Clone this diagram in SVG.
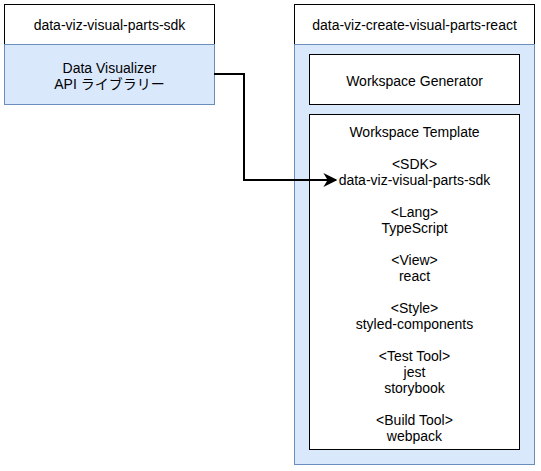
<svg xmlns="http://www.w3.org/2000/svg" width="541" height="471" viewBox="0 0 541 471">
<defs>
<style>
.hdr{fill:#ffffff;stroke:#000000;stroke-width:1}
.body{fill:#dae8fc;stroke:#6c8ebf;stroke-width:1}
.box{fill:#ffffff;stroke:#000000;stroke-width:1}
text{font-family:"Liberation Sans",Arial,Helvetica,"Noto Sans CJK JP",sans-serif;font-size:14px;fill:#000000;text-anchor:middle}
.conn{fill:none;stroke:#000000;stroke-width:2}
</style>
<marker id="arr" viewBox="0 0 10 10" refX="9" refY="5" markerWidth="7" markerHeight="7" orient="auto" markerUnits="strokeWidth">
<path d="M0,0 L10,5 L0,10 L3,5 Z" fill="#000000"/>
</marker>
</defs>
<g id="sdk">
<rect class="hdr" x="4.5" y="4.5" width="210" height="40"/>
<text x="109.5" y="29.5">data-viz-visual-parts-sdk</text>
<rect class="body" x="4.5" y="44.5" width="210" height="60"/>
<text x="109.5" y="73">Data Visualizer</text>
<text x="109.5" y="89">API ライブラリー</text>
</g>
<g id="react">
<rect class="hdr" x="294.5" y="4.5" width="240" height="40"/>
<text x="414.5" y="29.5">data-viz-create-visual-parts-react</text>
<rect class="body" x="294.5" y="44.5" width="240" height="420"/>
</g>
<g id="generator">
<rect class="box" x="309.5" y="54.5" width="210" height="50"/>
<text x="414.5" y="85.5">Workspace Generator</text>
</g>
<g id="template">
<rect class="box" x="309.5" y="114.5" width="210" height="335"/>
<text x="414.5" y="136.5">Workspace Template</text>
<text x="414.5" y="169">&lt;SDK&gt;</text>
<text x="414.5" y="185">data-viz-visual-parts-sdk</text>
<text x="414.5" y="217">&lt;Lang&gt;</text>
<text x="414.5" y="233">TypeScript</text>
<text x="414.5" y="265">&lt;View&gt;</text>
<text x="414.5" y="281">react</text>
<text x="414.5" y="313">&lt;Style&gt;</text>
<text x="414.5" y="329">styled-components</text>
<text x="414.5" y="361">&lt;Test Tool&gt;</text>
<text x="414.5" y="377">jest</text>
<text x="414.5" y="393">storybook</text>
<text x="414.5" y="425">&lt;Build Tool&gt;</text>
<text x="414.5" y="441">webpack</text>
</g>
<g id="connectors">
<path class="conn" d="M214,74 L244,74 L244,180 L336,180" marker-end="url(#arr)"/>
</g>
</svg>
